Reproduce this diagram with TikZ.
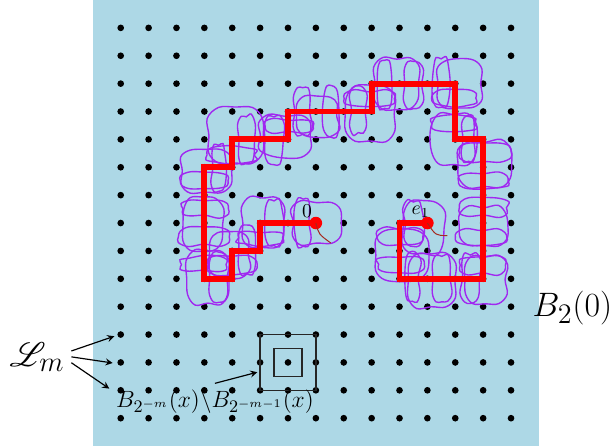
\documentclass[tikz,border=0pt]{standalone}
\usepackage{mathrsfs}
\usetikzlibrary{arrows}
\definecolor{lightsky}{RGB}{173,216,230}
\definecolor{loopviolet}{RGB}{160,40,240}
\definecolor{tailred}{RGB}{165,40,30}
% wobbly loop: centre (#1,#2), half sizes #3 and #4
\newcommand{\wobbly}[4]{%
  \draw[loopy] plot[smooth cycle, tension=0.6] coordinates {
    ({#1+#3+0.05*rand},{#2-0.62*#4}) ({#1+#3+0.07*rand},{#2}) ({#1+#3+0.05*rand},{#2+0.62*#4})
    ({#1+0.62*#3},{#2+#4+0.05*rand}) ({#1},{#2+#4+0.07*rand}) ({#1-0.62*#3},{#2+#4+0.05*rand})
    ({#1-#3+0.05*rand},{#2+0.62*#4}) ({#1-#3+0.07*rand},{#2}) ({#1-#3+0.05*rand},{#2-0.62*#4})
    ({#1-0.62*#3},{#2-#4+0.05*rand}) ({#1},{#2-#4+0.07*rand}) ({#1+0.62*#3},{#2-#4+0.05*rand})
  };}
\begin{document}
\begin{tikzpicture}[>=stealth, x=0.5cm, y=0.5cm,
    loopy/.style={draw=loopviolet, line width=0.7pt},
    walk/.style={draw=red, line width=3pt},
    reddot/.style={circle, fill=red, inner sep=0pt, minimum size=6.4pt},
    tail/.style={tailred, line width=0.5pt},
    bigfont/.style={font=\fontsize{19}{22}\selectfont}]
  \pgfmathsetseed{42}
  \useasboundingbox (-11.33,-8) rectangle (10.55,8);
  \fill[lightsky] (-8,-8) rectangle (8,8);
  % lattice
  \foreach \i in {-7,...,7}
    \foreach \j in {-7,...,7}
      \fill (\i,\j) circle (1.7pt);
  % loops along the walk
  \foreach \x/\y [count=\k, remember=\x as \px (initially 0), remember=\y as \py (initially 0)] in
    {0/0,-1/0,-2/0,-2/-1,-3/-1,-3/-2,-4/-2,-4/-1,-4/0,-4/1,-4/2,-3/2,-3/3,-2/3,-1/3,-1/4,0/4,1/4,2/4,
     2/5,3/5,4/5,5/5,5/4,5/3,6/3,6/2,6/1,6/0,6/-1,6/-2,5/-2,4/-2,3/-2,3/-1,3/0,4/0} {
    \ifnum\k>1
      \pgfmathsetmacro\dx{abs(\x-\px)}
      \pgfmathsetmacro\hw{0.85-0.55*\dx+0.05*rand}
      \pgfmathsetmacro\hh{0.3+0.55*\dx+0.05*rand}
      \pgfmathsetmacro\mx{(\x+\px)/2+0.06*rand}
      \pgfmathsetmacro\my{(\y+\py)/2+0.06*rand}
      \wobbly{\mx}{\my}{\hw}{\hh}
    \fi
    \ifodd\k
      \pgfmathsetmacro\sa{0.85+0.15*rand}
      \pgfmathsetmacro\sb{0.85+0.15*rand}
      \pgfmathsetmacro\ox{\x+0.2*rand}
      \pgfmathsetmacro\oy{\y+0.2*rand}
      \wobbly{\ox}{\oy}{\sa}{\sb}
    \fi
  }
  % the walk
  \draw[walk] (0,0) -- (-2,0) -- (-2,-1) -- (-3,-1) -- (-3,-2) -- (-4,-2) -- (-4,2) -- (-3,2)
    -- (-3,3) -- (-1,3) -- (-1,4) -- (2,4) -- (2,5) -- (5,5) -- (5,3) -- (6,3) -- (6,-2)
    -- (3,-2) -- (3,0) -- (4,0);
  \node[reddot] (origin) at (0,0) {};
  \node[reddot] (eone) at (4,0) {};
  \draw[tail] (origin.center) .. controls (0.1,-0.4) .. (0.54,-0.72);
  \draw[tail] (eone.center) .. controls (4.3,-0.45) .. (4.72,-0.45);
  \node (zerolabel) at (-0.32,0.41) {$0$};
  \node (eonelabel) at (3.76,0.41) {$e_1$};
  % annulus around x
  \draw[line width=0.8pt, black!85] (-2,-4) rectangle (0,-6);
  \draw[line width=0.8pt, black!85] (-1.5,-4.5) rectangle (-0.5,-5.5);
  \coordinate (annulus) at (-2.1,-5.35);
  \node[font=\fontsize{13}{15}\selectfont] (annlabel) at (-3.62,-6.42)
    {$B_{2^{-m}}(x)\backslash B_{2^{-m-1}}(x)$};
  \draw[->, line width=0.6pt] (annlabel.north) -- (annulus);
  % labels on the left and right
  \node[bigfont] (lm) at (-10.0,-4.8) {$\mathscr{L}_m$};
  \coordinate (lmA) at (-7.23,-4.06);
  \coordinate (lmB) at (-7.29,-5.02);
  \coordinate (lmC) at (-7.41,-5.94);
  \draw[->, line width=0.6pt] ([yshift=3pt]lm.east) -- (lmA);
  \draw[->, line width=0.6pt] (lm.east) -- (lmB);
  \draw[->, line width=0.6pt] ([yshift=-3pt]lm.east) -- (lmC);
  \node[bigfont] (ball) at (9.2,-3.05) {$B_2(0)$};
\end{tikzpicture}
\end{document}
